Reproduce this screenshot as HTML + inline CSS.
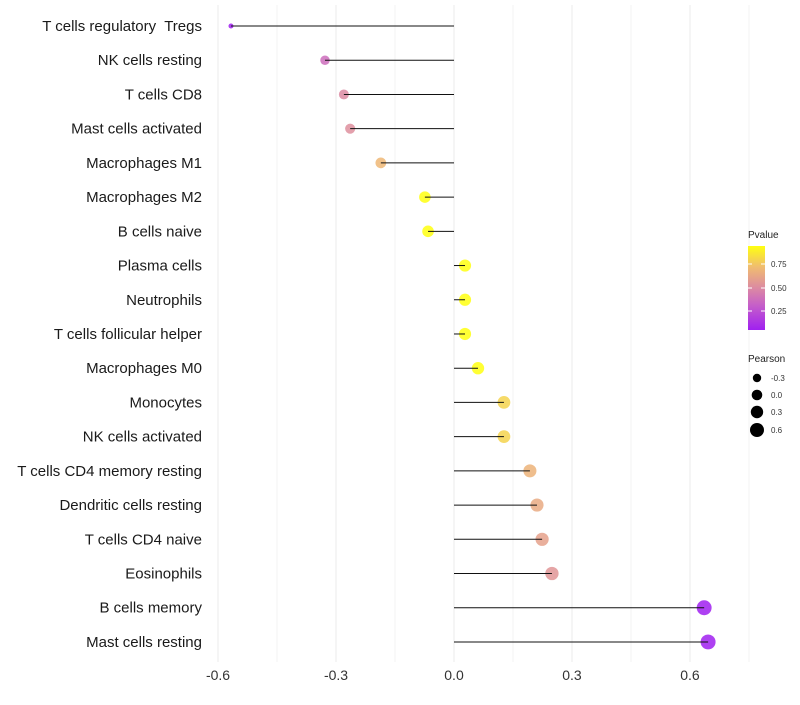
<!DOCTYPE html>
<html><head><meta charset="utf-8"><style>
body{margin:0;background:#fff;font-family:"Liberation Sans",sans-serif}
text{white-space:pre}
</style></head><body>
<svg id="chart" width="800" height="700" xmlns="http://www.w3.org/2000/svg">
<defs><linearGradient id="pg" x1="0" y1="1" x2="0" y2="0">
<stop offset="0" stop-color="#a020f0"/><stop offset="0.3" stop-color="#c660c8"/><stop offset="0.5" stop-color="#dc8aa2"/><stop offset="0.75" stop-color="#f0bc70"/><stop offset="1" stop-color="#ffff10"/></linearGradient></defs>
<g id="grid"></g><g id="marks"></g><g id="labels"></g>
<g>
<text x="748" y="238" font-size="10" fill="#222">Pvalue</text>
<rect x="748" y="246" width="17" height="84" fill="url(#pg)"/>
<g stroke="#fff" stroke-width="1"><line x1="748" y1="264" x2="752" y2="264"/><line x1="761" y1="264" x2="765" y2="264"/><line x1="748" y1="288" x2="752" y2="288"/><line x1="761" y1="288" x2="765" y2="288"/><line x1="748" y1="311" x2="752" y2="311"/><line x1="761" y1="311" x2="765" y2="311"/></g>
<text x="771" y="267" font-size="8" fill="#333">0.75</text>
<text x="771" y="291" font-size="8" fill="#333">0.50</text>
<text x="771" y="314" font-size="8" fill="#333">0.25</text>
</g>
<g>
<text x="748" y="362" font-size="10" fill="#222">Pearson</text>
<circle cx="757" cy="378" r="4.2" fill="#000"/><text x="771" y="381" font-size="8" fill="#333">-0.3</text>
<circle cx="757" cy="395" r="5.3" fill="#000"/><text x="771" y="398" font-size="8" fill="#333">0.0</text>
<circle cx="757" cy="412" r="6.2" fill="#000"/><text x="771" y="415" font-size="8" fill="#333">0.3</text>
<circle cx="757" cy="430" r="7" fill="#000"/><text x="771" y="433" font-size="8" fill="#333">0.6</text>
</g>
</svg>
<script>
const categories=["T cells regulatory  Tregs","NK cells resting","T cells CD8","Mast cells activated","Macrophages M1","Macrophages M2","B cells naive","Plasma cells","Neutrophils","T cells follicular helper","Macrophages M0","Monocytes","NK cells activated","T cells CD4 memory resting","Dendritic cells resting","T cells CD4 naive","Eosinophils","B cells memory","Mast cells resting"];
const pearson=[-0.567,-0.328,-0.28,-0.264,-0.186,-0.074,-0.066,0.028,0.028,0.028,0.061,0.127,0.127,0.193,0.211,0.224,0.249,0.636,0.646];
const pvalues=[0.03,0.38,0.5,0.52,0.7,0.95,0.95,1.0,1.0,1.0,0.95,0.8,0.8,0.68,0.64,0.6,0.55,0.03,0.03];
const xTicks=[-0.6,-0.3,0.0,0.3,0.6];
const xTickLabels=["-0.6","-0.3","0.0","0.3","0.6"];
const NS="http://www.w3.org/2000/svg";
const xs=v=>454+v*393.33;
const ys=i=>26+i*34.22;
const rs=v=>Math.sqrt(56*Math.pow(Math.max(0.001,(v+0.6)/1.25),0.6));
const stops=[[0,[160,32,240]],[0.3,[198,96,200]],[0.5,[220,138,162]],[0.75,[240,188,112]],[1,[255,255,16]]];
function col(p){p=Math.max(0,Math.min(1,(p-0.06)/0.88));for(let k=1;k<stops.length;k++){if(p<=stops[k][0]){const a=stops[k-1],b=stops[k],t=(p-a[0])/(b[0]-a[0]);return `rgb(${a[1].map((c,j)=>Math.round(c+(b[1][j]-c)*t)).join(',')})`;}}return 'rgb(255,255,16)';}
function mk(tag,at,parent){const e=document.createElementNS(NS,tag);for(const k in at)e.setAttribute(k,at[k]);parent.appendChild(e);return e;}
const grid=document.getElementById('grid'),marks=document.getElementById('marks'),labels=document.getElementById('labels');
for(let v=-0.6;v<=0.76;v+=0.15){const l=mk('line',{x1:xs(v),x2:xs(v),y1:5,y2:662,stroke:'#ebebeb','stroke-width':Math.abs(Math.round(v/0.15))%2?0.6:1},grid);

}
xTicks.forEach((v,i)=>{const t=mk('text',{x:xs(v),y:680,'font-size':14,'text-anchor':'middle',fill:'#333'},labels);t.textContent=xTickLabels[i];

});
categories.forEach((c,i)=>{const y=ys(i),v=pearson[i];
const t=mk('text',{x:202,y:y+5,'font-size':15,'text-anchor':'end',fill:'#1a1a1a'},labels);t.textContent=c;


const d=mk('circle',{cx:xs(v),cy:y,r:rs(v),fill:col(pvalues[i]),'fill-opacity':0.85},marks);


const l=mk('line',{x1:xs(0),x2:xs(v),y1:y,y2:y,stroke:'#111','stroke-width':1},marks);

});
</script>
</body></html>
